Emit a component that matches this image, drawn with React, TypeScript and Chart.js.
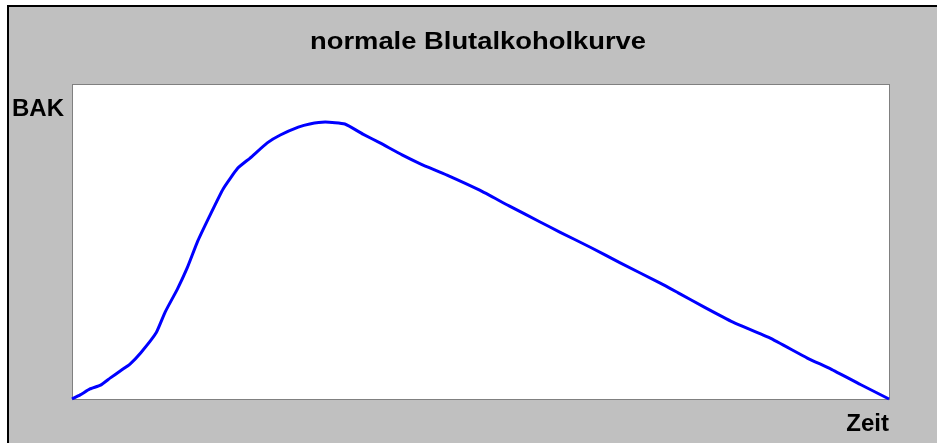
import React, { useEffect, useRef } from "react";
import { Chart, registerables } from "chart.js";

Chart.register(...registerables);

// Time (relative units, 0..100) and blood alcohol concentration (relative units, 0..100)
const timeValues = [
  0, 1.0, 2.2, 3.5, 4.7, 5.9, 7.1, 8.4, 10.3, 11.4, 12.9, 14.1, 15.4, 16.9, 18.5, 20.3,
  21.8, 23.9, 25.5, 27.7, 29.1, 31.0, 33.4, 35.6, 37.7, 40.4, 42.7, 45.9, 49.9, 53.5,
  57.3, 59.7, 63.5, 67.1, 72.0, 74.2, 77.5, 80.9, 85.4, 90.0, 92.9, 96.5, 100,
];
const bakValues = [
  0, 1.3, 3.2, 4.4, 6.7, 8.9, 11.1, 14.6, 21.0, 27.6, 34.9, 41.6, 50.2, 58.4, 66.7, 73.3,
  76.5, 81.3, 83.8, 86.3, 87.3, 87.9, 87.3, 84.1, 81.3, 77.5, 74.6, 71.1, 66.3, 61.3,
  56.2, 53.0, 48.1, 43.2, 36.8, 33.7, 29.0, 24.4, 19.4, 13.0, 9.5, 4.6, 0,
];

const titleText = "normale Blutalkoholkurve";
const yLabel = "BAK";
const xLabel = "Zeit";

const W = 937;
const H = 443;

export default function App() {
  const ref = useRef<HTMLCanvasElement | null>(null);

  useEffect(() => {
    if (!ref.current) return;
    const decor = {
      id: "decor",
      beforeDatasetsDraw(chart: any) {
        const { ctx, chartArea } = chart;
        ctx.save();
        ctx.fillStyle = "#ffffff";
        ctx.fillRect(chartArea.left, chartArea.top, chartArea.right - chartArea.left, chartArea.bottom - chartArea.top);
        ctx.strokeStyle = "#808080";
        ctx.lineWidth = 1;
        ctx.strokeRect(chartArea.left + 0.5, chartArea.top + 0.5, chartArea.right - chartArea.left, chartArea.bottom - chartArea.top);
        ctx.restore();
      },
      afterDraw(chart: any) {
        const { ctx } = chart;
        ctx.save();
        ctx.fillStyle = "#000000";
        ctx.textBaseline = "alphabetic";
        ctx.font = "bold 24px 'Liberation Sans', Arial, sans-serif";
        ctx.save();
        ctx.translate(478, 49);
        ctx.scale(1.14, 1);
        ctx.textAlign = "center";
        ctx.fillText(titleText, 0, 0);
        ctx.restore();
        ctx.textAlign = "left";
        ctx.fillText(yLabel, 12, 116);
        ctx.textAlign = "right";
        ctx.fillText(xLabel, 889, 431);
        ctx.restore();
      },
    };
    const chart = new Chart(ref.current, {
      type: "line",
      data: {
        datasets: [
          {
            data: timeValues.map((t, i) => ({ x: t, y: bakValues[i] })),
            borderColor: "#0000ff",
            borderWidth: 3,
            pointRadius: 0,
            tension: 0.15,
            fill: false,
            clip: false as any,
          },
        ],
      },
      options: {
        responsive: false,
        animation: false,
        layout: { padding: { left: 72, top: 84, right: W - 889, bottom: H - 399 } },
        scales: {
          x: { type: "linear", min: 0, max: 100, display: false },
          y: { type: "linear", min: 0, max: 100, display: false },
        },
        plugins: {
          legend: { display: false },
          tooltip: { enabled: false },
          title: { display: false },
        },
      },
      plugins: [decor],
    });
    return () => chart.destroy();
  }, []);

  return (
    <div style={{ position: "relative", width: W, height: H, background: "#ffffff", overflow: "hidden" }}>
      <style>{`body{margin:0;}`}</style>
      <div
        style={{
          position: "absolute",
          left: 7,
          top: 5,
          right: 0,
          bottom: 0,
          background: "#c0c0c0",
          borderLeft: "2px solid #000000",
          borderTop: "2px solid #000000",
        }}
      />
      <canvas ref={ref} width={W} height={H} style={{ position: "absolute", left: 0, top: 0, width: W, height: H }} />
    </div>
  );
}
